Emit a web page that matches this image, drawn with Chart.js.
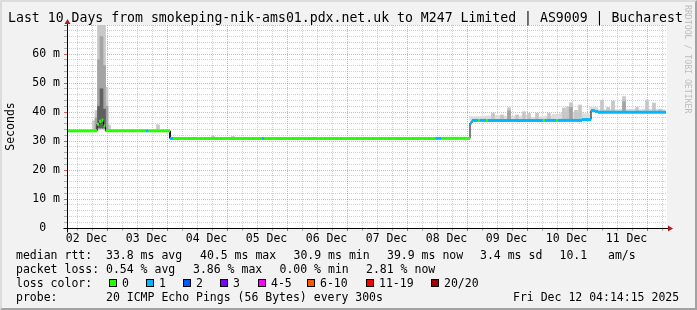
<!DOCTYPE html>
<html>
<head>
<meta charset="utf-8">
<script src="https://cdn.jsdelivr.net/npm/chart.js@4.4.1/dist/chart.umd.min.js"></script>
<style>
  html, body { margin: 0; padding: 0; }
  body { width: 697px; height: 310px; overflow: hidden; position: relative; background: #f2f2f2;
         font-family: "DejaVu Sans Mono", monospace; color: #000; }
  #frame { position: absolute; left: 0; top: 0; width: 693px; height: 306px; border: 2px solid;
           border-color: #dcdcdc #a2a2a2 #a2a2a2 #dcdcdc; z-index: 0; }
  #chart { position: absolute; left: 0; top: 0; z-index: 1; }
  .t { position: absolute; white-space: pre; z-index: 2; }
  #title { left: 8px; top: 10px; font-size: 13.2px; line-height: 16px; }
  .row { font-size: 11.5px; line-height: 14px; }
  .sw { position: absolute; width: 6px; height: 6px; border: 1px solid #000; z-index: 2; }
  #wm { position: absolute; left: 683px; top: 5px; font-size: 8.2px; color: #bdbdbd;
        writing-mode: vertical-rl; white-space: pre; z-index: 2; }
</style>
</head>
<body>
<div id="frame"></div>
<canvas id="chart" width="697" height="310"></canvas>
<div id="title" class="t">Last 10 Days from smokeping-nik-ams01.pdx.net.uk to M247 Limited | AS9009 | Bucharest</div>
<div id="wm">RRDTOOL / TOBI OETIKER</div>
<div id="legend"></div>
<script>
// time axis is hours since 02 Dec 00:00
const xMin = 4.8;
const xMax = 244.8;
const dayLabels = ['02 Dec', '03 Dec', '04 Dec', '05 Dec', '06 Dec', '07 Dec', '08 Dec', '09 Dec', '10 Dec', '11 Dec'];
const yLabelValues = [0, 10, 20, 30, 40, 50, 60];

// median rtt (ms) as steps: starts at medHour[i], holds until the next one
const medHour  = [4.8, 16.8, 17.6, 18.6, 19.4, 20.2, 36.4, 37.4, 46.0, 47.2, 82.8, 83.6, 152.2, 154.6,
                  166.0, 166.8, 169.2, 170.0, 172.4, 173.2, 195.2, 196.0, 200.4, 201.2, 210.8, 214.4, 216.0, 217.2];
const medValue = [33.5, 35.8, 36.8, 37.2, 35.2, 33.5, 33.5, 33.5, 30.9, 30.9, 30.9, 30.9, 30.9, 30.9,
                  36.2, 37.1, 37.1, 37.1, 37.1, 37.1, 37.1, 37.1, 37.1, 37.1, 37.4, 40.5, 40.2, 39.9];
const medLoss  = [0, 0, 0, 0, 0, 0, 1, 0, 1, 0, 1, 0, 1, 0,
                  1, 1, 0, 1, 0, 1, 0, 1, 0, 1, 1, 1, 1, 1];
const medEnd = 244.4;

// smoke: light band after 08 Dec (3 h bins)
const bandHour = [167.5, 170.5, 173.5, 176.5, 179.5, 182.5, 185.5, 188.5, 191.5, 194.5, 197.5, 200.5, 203.5,
                  206.5, 209.5, 212.5, 215.5, 218.5, 221.5, 224.5, 227.5, 230.5, 233.5, 236.5, 239.5, 242.5];
const bandLow  = [37.1, 37.1, 37.1, 37.1, 37.1, 37.1, 37.1, 37.1, 37.1, 37.1, 37.1, 37.1, 37.1,
                  37.1, 37.1, 37.4, 39.9, 39.9, 39.9, 39.9, 39.9, 39.9, 39.9, 39.9, 39.9, 39.9];
const bandHigh = [38.4, 38.4, 38.6, 38.8, 38.6, 38.6, 38.6, 38.8, 38.2, 38.4, 38.6, 39.2, 39.6,
                  39.8, 39.8, 39.4, 41.6, 40.8, 40.9, 40.9, 41.0, 41.0, 40.8, 41.0, 41.0, 40.8];

// smoke: single spikes after 08 Dec (1 h bins)
const spikeHour = [175.2, 178.8, 181.6, 184.8, 187.6, 189.6, 192.8, 197.6, 203.6, 205.2, 206.4, 208.4, 210.0,
                   218.8, 221.2, 223.2, 227.6, 232.8, 236.8, 239.6, 242.0];
const spikeLow  = [37.1, 37.1, 37.1, 37.1, 37.1, 37.1, 37.1, 37.1, 37.1, 37.1, 37.1, 37.1, 37.1,
                   39.9, 39.9, 39.9, 39.9, 39.9, 39.9, 39.9, 39.9];
const spikeHigh = [39.6, 39.0, 41.5, 39.0, 40.1, 39.5, 39.6, 39.6, 41.4, 41.8, 43.2, 40.6, 42.4,
                   44.1, 41.6, 43.8, 45.3, 41.5, 44.1, 43.1, 41.0];

// smoke around the 02 Dec burst, light / mid / dark layers
const lightHour = [15.6, 16.6, 17.6, 18.6, 19.6, 20.6, 21.6, 41.2, 63.2, 71.2];
const lightLow  = [33.5, 33.5, 34.0, 34.0, 34.0, 33.5, 33.5, 33.5, 30.9, 30.9];
const lightHigh = [37.0, 40.5, 70.0, 70.0, 70.0, 48.5, 35.5, 35.6, 31.6, 31.6];
const midHour = [16.6, 17.6, 18.6, 19.6, 20.6, 181.6, 206.4, 227.6];
const midLow  = [34.0, 34.5, 34.5, 34.5, 34.0, 37.1, 37.1, 39.9];
const midHigh = [38.0, 58.0, 66.0, 56.0, 42.0, 40.4, 41.6, 43.6];
const darkHour = [17.6, 18.6, 19.6];
const darkLow  = [34.5, 34.5, 34.5];
const darkHigh = [42.0, 48.0, 41.0];

const lossLabels = ['0', '1', '2', '3', '4-5', '6-10', '11-19', '20/20'];
const lossColors = ['#26ff00', '#00b8ff', '#0059ff', '#7e00ff', '#ff00ff', '#ff5500', '#ff0000', '#a10000'];

function lossBucket(n) {
    if (n <= 3) return n;
    if (n <= 5) return 4;
    if (n <= 10) return 5;
    if (n <= 19) return 6;
    return 7;
}

// legend text under the chart, one entry per rrdtool legend item
const legendRows = [
    [[16, 'median rtt:  33.8 ms avg'], [200, '40.5 ms max'], [293.5, '30.9 ms min'],
     [387, '39.9 ms now'], [480, '3.4 ms sd'], [559.5, '10.1   am/s']],
    [[16, 'packet loss: 0.54 % avg'], [193, '3.86 % max'], [279.5, '0.00 % min'], [366, '2.81 % now']],
    [[16, 'loss color:']],
    [[16, 'probe:       20 ICMP Echo Pings (56 Bytes) every 300s'], [513, 'Fri Dec 12 04:14:15 2025']]
];
const swatchX = [109, 146, 183, 220, 258, 307, 366, 431];

function buildLegend() {
    const box = document.getElementById('legend');
    legendRows.forEach((row, r) => {
        const top = 247.5 + r * 14;
        row.forEach(([x, txt]) => {
            const d = document.createElement('div');
            d.className = 't row';
            d.style.left = x + 'px';
            d.style.top = top + 'px';
            d.textContent = txt;
            box.appendChild(d);
        });
    });
    lossLabels.forEach((lab, i) => {
        const top = 247.5 + 2 * 14;
        const s = document.createElement('div');
        s.className = 'sw';
        s.style.left = swatchX[i] + 'px';
        s.style.top = (top + 3) + 'px';
        s.style.background = lossColors[i];
        box.appendChild(s);
        const d = document.createElement('div');
        d.className = 't row';
        d.style.left = (swatchX[i] + 13) + 'px';
        d.style.top = top + 'px';
        d.textContent = lab;
        box.appendChild(d);
    });
}
buildLegend();

// median as flat pieces, the vertical joins get their own thin black line
const medPts = [];
for (let i = 0; i < medHour.length; i++) {
    const next = i + 1 < medHour.length ? medHour[i + 1] : medEnd;
    medPts.push({ x: medHour[i], y: medValue[i], loss: medLoss[i] });
    medPts.push({ x: next, y: medValue[i], loss: medLoss[i] });
}

function ranges(hours, low, high) {
    return hours.map((h, i) => ({ x: h, y: [low[i], high[i]] }));
}

const xTicks = [];
for (let h = 6; h <= 240; h += 6) xTicks.push(h);
const yTicks = [];
for (let v = 0; v <= 70; v += 2) yTicks.push(v);

const monoFont = { family: '"DejaVu Sans Mono", monospace', size: 11.5 };
const majorGrid = 'rgba(235, 110, 110, 0.6)';
const minorGrid = 'rgba(170, 170, 170, 0.55)';

const plotFrame = {
    id: 'plotFrame',
    beforeDraw(chart) {
        const { ctx, chartArea: a } = chart;
        ctx.save();
        ctx.fillStyle = '#ffffff';
        ctx.fillRect(a.left, a.top, a.right - a.left, a.bottom - a.top);
        ctx.restore();
    },
    afterDraw(chart) {
        const { ctx, chartArea: a } = chart;
        const l = Math.round(a.left) + 0.5, b = Math.round(a.bottom) + 0.5;
        ctx.save();
        ctx.strokeStyle = '#000';
        ctx.lineWidth = 1;
        ctx.beginPath();
        ctx.moveTo(l, b + 4); ctx.lineTo(l, a.top - 3);
        ctx.moveTo(l - 4, b); ctx.lineTo(a.right + 2, b);
        ctx.stroke();
        ctx.fillStyle = '#a52020';
        ctx.beginPath();
        ctx.moveTo(l - 3, a.top - 1); ctx.lineTo(l + 3, a.top - 1); ctx.lineTo(l, a.top - 6);
        ctx.fill();
        ctx.beginPath();
        ctx.moveTo(a.right + 1, b - 3); ctx.lineTo(a.right + 1, b + 3); ctx.lineTo(a.right + 6, b);
        ctx.fill();
        ctx.restore();
    }
};

function smokeSet(label, data, color, width, order) {
    return {
        type: 'bar', label, data, backgroundColor: color, borderWidth: 0,
        barThickness: width, grouped: false, order
    };
}

new Chart(document.getElementById('chart'), {
    type: 'bar',
    data: {
        datasets: [
            {
                type: 'line', label: 'median', data: medPts, order: 0,
                borderWidth: 3, borderCapStyle: 'butt', pointRadius: 0, tension: 0,
                segment: {
                    borderColor: ctx => ctx.p0.parsed.x === ctx.p1.parsed.x
                        ? 'rgba(0,0,0,0)'
                        : lossColors[lossBucket(medPts[ctx.p0DataIndex].loss)]
                }
            },
            {
                type: 'line', label: 'median link', data: medPts, order: 1,
                borderColor: '#000', borderWidth: 1, pointRadius: 0, tension: 0
            },
            smokeSet('dark', ranges(darkHour, darkLow, darkHigh), '#606060', 3, 2),
            smokeSet('mid', ranges(midHour, midLow, midHigh), '#a4a4a4', 3, 3),
            smokeSet('spikes', ranges(spikeHour, spikeLow, spikeHigh), '#c6c6c6', 3, 4),
            smokeSet('light', ranges(lightHour, lightLow, lightHigh), '#c8c8c8', 3, 5),
            smokeSet('band', ranges(bandHour, bandLow, bandHigh), '#dcdcdc', 8, 6)
        ]
    },
    options: {
        responsive: false,
        animation: false,
        events: [],
        layout: { padding: { left: 0, top: 25, right: 30, bottom: 62 } },
        plugins: { legend: { display: false }, tooltip: { enabled: false } },
        scales: {
            x: {
                type: 'linear', min: xMin, max: xMax, offset: false,
                afterBuildTicks: s => { s.ticks = xTicks.map(v => ({ value: v })); },
                afterFit: s => { s.height = 20; },
                ticks: {
                    autoSkip: false, maxRotation: 0, minRotation: 0, padding: 1, labelOffset: 1.5,
                    color: '#000', font: monoFont,
                    callback: v => v % 24 === 12 ? dayLabels[(v - 12) / 24] : ''
                },
                grid: {
                    color: c => c.tick && c.tick.value % 24 === 0 ? majorGrid : minorGrid,
                    tickColor: c => c.tick && c.tick.value % 24 === 0 ? '#d06060' : '#b0b0b0',
                    tickLength: 3, lineWidth: 1
                },
                border: { display: false, dash: [1, 1] }
            },
            y: {
                min: 0, max: 70,
                afterBuildTicks: s => { s.ticks = yTicks.map(v => ({ value: v })); },
                afterFit: s => { s.width = 67; },
                title: { display: true, text: 'Seconds', color: '#000', font: monoFont },
                ticks: {
                    autoSkip: false, padding: 4, color: '#000', font: monoFont,
                    callback: v => yLabelValues.includes(v) ? (v === 0 ? '0  ' : v + ' m') : ''
                },
                grid: {
                    color: c => c.tick && c.tick.value % 10 === 0 ? majorGrid : minorGrid,
                    tickColor: c => c.tick && c.tick.value % 10 === 0 ? '#d06060' : '#b0b0b0',
                    tickLength: 3, lineWidth: 1
                },
                border: { display: false, dash: [1, 1] }
            }
        }
    },
    plugins: [plotFrame]
});
</script>
</body>
</html>
